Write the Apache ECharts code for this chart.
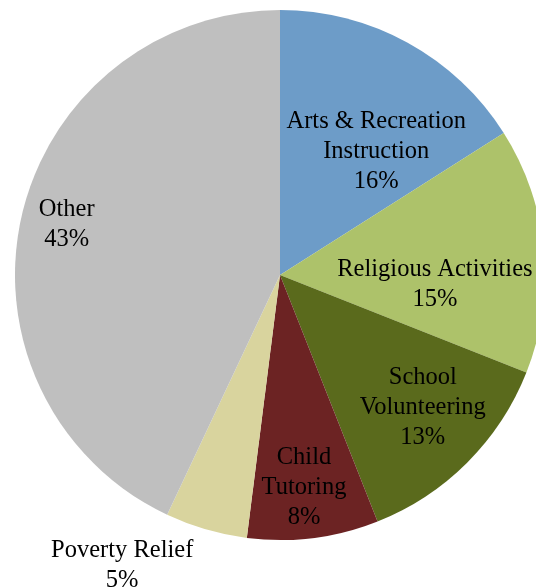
<!DOCTYPE html>
<html>
<head>
<meta charset="utf-8">
<script src="https://cdn.jsdelivr.net/npm/echarts@6/dist/echarts.min.js"></script>
<style>
  html, body { margin: 0; padding: 0; background: #fff; }
  #chart { width: 536px; height: 587px; }
</style>
</head>
<body>
<div id="chart"></div>
<script>
// Share of volunteer time by activity type
const categories = [
  'Arts & Recreation\nInstruction',
  'Religious Activities',
  'School\nVolunteering',
  'Child\nTutoring',
  'Poverty Relief',
  'Other'
];
const shares = [16, 15, 13, 8, 5, 43];
const sliceColors = ['#6d9cc8', '#adc26a', '#5a6a1c', '#6c2323', '#d9d49e', '#bfbfbf'];

// Nudges applied to each slice's label from its default inside position
const labelNudge = [
  [31, -5],
  [20, 22],
  [47, 37],
  [7, 78],
  [-120, 160],
  [-81, -21]
];

const chart = echarts.init(document.getElementById('chart'), null, { renderer: 'canvas' });

chart.setOption({
  animation: false,
  backgroundColor: '#ffffff',
  series: [{
    type: 'pie',
    center: [280, 275],
    radius: [0, 265],
    startAngle: 90,
    clockwise: true,
    avoidLabelOverlap: false,
    data: categories.map((name, i) => ({
      name: name,
      value: shares[i],
      itemStyle: { color: sliceColors[i] }
    })),
    itemStyle: { borderWidth: 0 },
    label: {
      show: true,
      position: 'inside',
      formatter: p => p.name + '\n' + p.value + '%',
      fontFamily: '"Liberation Serif", "DejaVu Serif", serif',
      fontSize: 24.5,
      lineHeight: 30,
      color: '#000000',
      align: 'center'
    },
    labelLine: { show: false },
    labelLayout: params => ({
      dx: labelNudge[params.dataIndex][0],
      dy: labelNudge[params.dataIndex][1]
    }),
    emphasis: { disabled: true }
  }]
});
</script>
</body>
</html>
